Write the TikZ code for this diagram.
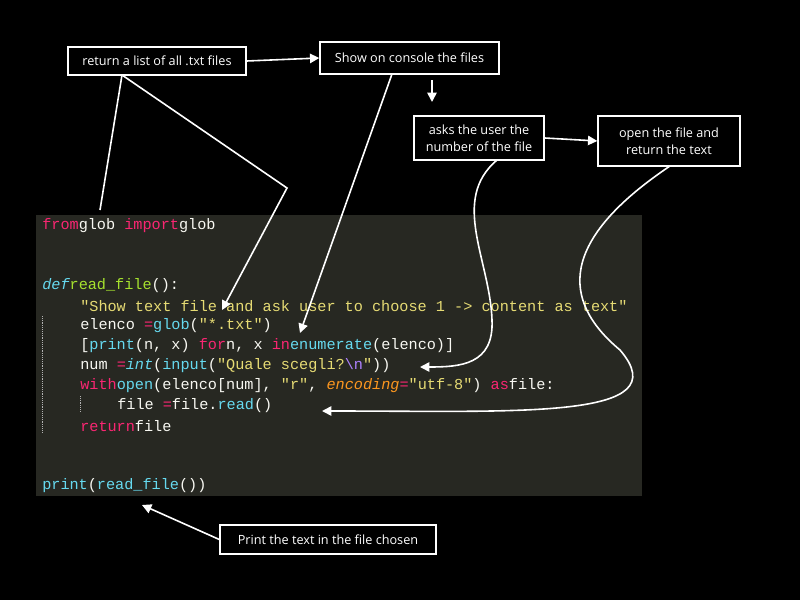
\documentclass[tikz,border=0pt]{standalone}
\usepackage{fontspec}
\setmainfont{Open Sans}
\setmonofont{Liberation Mono}
\usetikzlibrary{arrows.meta}
\definecolor{bgc}{HTML}{272822}
\definecolor{kw}{HTML}{F92672}
\definecolor{bl}{HTML}{66D9EF}
\definecolor{gr}{HTML}{A6E22E}
\definecolor{ye}{HTML}{E6DB74}
\definecolor{orx}{HTML}{FD971F}
\definecolor{pu}{HTML}{AE81FF}
\definecolor{wt}{HTML}{F8F8F2}
\tikzset{
 lbl/.style={draw=white,fill=black,text=white,font=\fontsize{9.5}{13}\selectfont,align=center,line width=1pt,inner sep=0pt},
 code/.style={anchor=west,inner sep=0pt,text=wt,font=\fontsize{11.4}{12}\ttfamily},
 ar/.style={white,line width=1.2pt,-{Triangle[length=7pt,width=7pt]}},
 ln/.style={white,line width=1.2pt}
}
\begin{document}
\begin{tikzpicture}[x=0.75pt,y=-0.75pt]
\fill[black] (0,0) rectangle (800,600);
\fill[bgc] (36,215) rectangle (642,496);
\draw[gray!60,densely dotted] (42,316) -- (42,432);
\draw[gray!60,densely dotted] (80,396) -- (80,412);
\node[code] (l1) at (42,226) {\color{kw}from\color{wt} glob \color{kw}import\color{wt} glob};
\node[code] (l2) at (42,286) {\color{bl}\itshape def\upshape\color{wt} \color{gr}read\_file\color{wt}():};
\node[code] (l3) at (80,306) {\color{ye}"Show text file and ask user to choose 1 -> content as text"};
\node[code] (l4) at (80,326) {elenco \color{kw}=\color{wt} \color{bl}glob\color{wt}(\color{ye}"*.txt"\color{wt})};
\node[code] (l5) at (80,346) {[\color{bl}print\color{wt}(n, x) \color{kw}for\color{wt} n, x \color{kw}in\color{wt} \color{bl}enumerate\color{wt}(elenco)]};
\node[code] (l6) at (80,366) {num \color{kw}=\color{wt} \color{bl}\itshape int\upshape\color{wt}(\color{bl}input\color{wt}(\color{ye}"Quale scegli?\color{pu}\textbackslash n\color{ye}"\color{wt}))};
\node[code] (l7) at (80,386) {\color{kw}with\color{wt} \color{bl}open\color{wt}(elenco[num], \color{ye}"r"\color{wt}, \color{orx}\itshape encoding\upshape\color{kw}=\color{ye}"utf-8"\color{wt}) \color{kw}as\color{wt} file:};
\node[code] (l8) at (117,406) {file \color{kw}=\color{wt} file.\color{bl}read\color{wt}()};
\node[code] (l9) at (80,426) {\color{kw}return\color{wt} file};
\node[code] (l10) at (42,486) {\color{bl}print\color{wt}(\color{bl}read\_file\color{wt}())};

\node[lbl,minimum width=178*0.75pt,minimum height=28*0.75pt] (b1) at (157,61) {return a list of all .txt files};
\node[lbl,minimum width=179*0.75pt,minimum height=32*0.75pt] (b2) at (409.5,58) {Show on console the files};
\node[lbl,minimum width=130*0.75pt,minimum height=44*0.75pt] (b3) at (479,138) {asks the user the\\number of the file};
\node[lbl,minimum width=142*0.75pt,minimum height=50*0.75pt] (b4) at (669,141) {open the file and\\return the text};
\node[lbl,minimum width=216*0.75pt,minimum height=29*0.75pt] (b5) at (328,539.5) {Print the text in the file chosen};

\coordinate (t1) at (222,310);
\coordinate (t2) at (300,333);
\coordinate (t3) at (420,367);
\coordinate (t4) at (322,411);
\coordinate (t5) at (142,505);
\coordinate (s1) at (432,80);
\coordinate (e1) at (432,102);

\draw[ar] (b1.east) -- (b2.west);
\draw[ln] (122,75) -- (100,210);
\draw[ar] (122,75) -- (287,188) -- (t1);
\draw[ar] (392,74) -- (t2);
\draw[ar] (s1) -- (e1);
\draw[ar] (b3.east) -- (b4.west);
\draw[ar] (497,160) .. controls (450,200) and (490,260) .. (492,320) .. controls (494,365) and (460,367) .. (t3);
\draw[ar] (670,166) .. controls (560,240) and (560,300) .. (620,350) .. controls (680,420) and (520,411) .. (t4);
\draw[ar] (b5.west) -- (t5);
\end{tikzpicture}
\end{document}
